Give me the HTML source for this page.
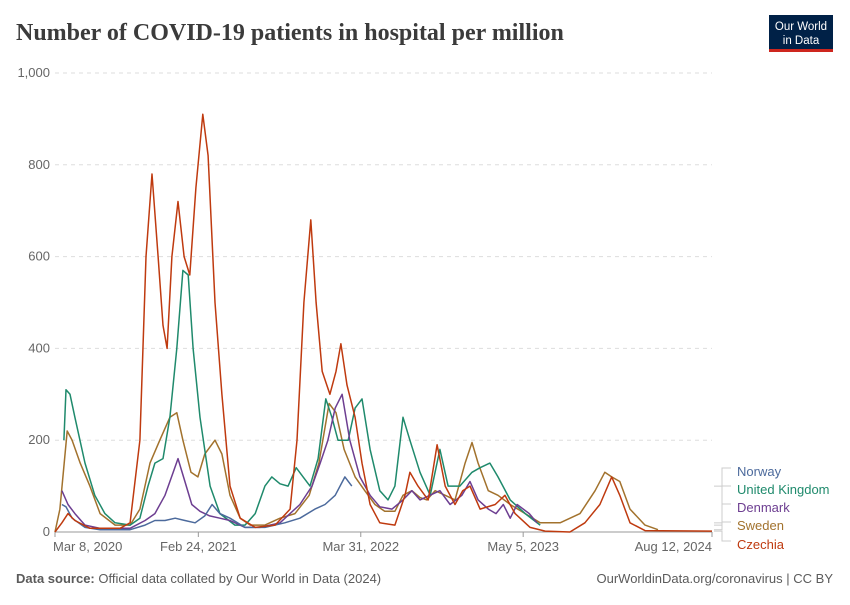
<!DOCTYPE html>
<html><head><meta charset="utf-8"><style>
body{margin:0;background:#fff;font-family:"Liberation Sans",sans-serif}
svg text{font-family:"Liberation Sans",sans-serif}
svg text.title{font-family:"Liberation Serif",serif;font-weight:bold}
</style></head><body>
<svg id="c" width="850" height="600" xmlns="http://www.w3.org/2000/svg">
<text class="title" x="16" y="40" font-size="24" fill="#3b3b3b">Number of COVID-19 patients in hospital per million</text>
<g>
<rect x="769" y="15" width="64" height="35" fill="#002147"/>
<rect x="769" y="49" width="64" height="3" fill="#ce261e"/>
<text x="801" y="30" font-size="11.5" fill="#fff" text-anchor="middle">Our World</text>
<text x="801" y="44" font-size="11.5" fill="#fff" text-anchor="middle">in Data</text>
</g>
<g id="grid"></g><g id="lines"></g><g id="legend"></g>
<text x="16" y="583" font-size="13" fill="#5b5b5b"><tspan font-weight="bold">Data source:</tspan> Official data collated by Our World in Data (2024)</text>
<text x="833" y="583" font-size="13" fill="#5b5b5b" text-anchor="end">OurWorldinData.org/coronavirus | CC BY</text>
</svg>
<script>
const yTicks=[0,200,400,600,800,1000];
const yTickLabels=["0","200","400","600","800","1,000"];
const xTickDays=[0,353,753,1153,1618];
const xTickLabels=["Mar 8, 2020","Feb 24, 2021","Mar 31, 2022","May 5, 2023","Aug 12, 2024"];
const seriesNames=["Norway","United Kingdom","Denmark","Sweden","Czechia"];
// day offsets since 2020-03-08 and values (per million)
const czechiaDays=[0,17,32,49,86,160,185,209,224,239,254,266,276,288,303,318,332,347,364,377,394,411,431,456,493,542,579,596,613,630,643,658,677,692,704,719,739,756,776,800,837,862,874,894,919,941,961,985,1004,1022,1047,1084,1108,1133,1170,1207,1268,1305,1342,1371,1391,1416,1453,1618];
const czechiaVals=[0,20,40,25,8,8,20,200,600,780,600,450,400,600,720,600,560,750,910,820,500,300,100,30,10,15,50,200,500,680,500,350,300,350,410,320,250,150,60,20,15,80,130,100,70,190,100,60,90,100,50,60,80,40,10,2,0,20,60,120,80,20,3,2];
const swedenDays=[0,12,30,42,62,86,111,148,185,209,234,258,283,300,315,335,352,369,394,411,431,456,481,517,554,591,626,650,675,692,712,739,763,788,812,837,857,879,899,916,936,961,985,1010,1027,1042,1067,1091,1121,1158,1195,1244,1293,1330,1354,1371,1391,1416,1453,1485];
const swedenVals=[0,50,220,200,150,100,40,15,15,50,150,200,250,260,200,130,120,170,200,170,80,30,15,15,30,40,80,150,280,260,180,120,90,60,45,45,80,90,75,70,90,80,70,150,195,150,90,80,60,40,20,20,40,90,130,120,110,50,15,5];
const ukDays=[22,27,37,49,74,98,123,148,185,209,229,246,266,283,300,315,328,340,357,382,406,443,468,493,517,534,554,574,594,611,628,648,667,682,697,722,739,756,776,800,820,837,857,874,899,924,948,968,997,1027,1047,1071,1091,1121,1158,1195];
const ukVals=[200,310,300,250,150,80,40,20,15,30,100,150,160,250,400,570,560,400,250,100,40,15,15,40,100,120,105,100,140,120,100,160,290,250,200,200,270,290,180,90,70,100,250,200,130,80,180,100,100,130,140,150,120,70,40,15];
const denmarkDays=[17,32,49,74,111,185,222,246,271,291,303,320,337,357,381,406,431,468,505,554,603,633,653,672,690,707,726,751,776,800,830,857,879,899,923,948,973,1002,1022,1042,1067,1086,1104,1121,1138,1168,1187];
const denmarkVals=[90,60,40,15,8,8,25,40,80,130,160,110,60,45,35,30,25,10,10,20,60,100,150,200,270,300,200,120,80,55,50,70,90,70,80,90,60,80,110,70,50,40,60,30,60,40,20];
const norwayDays=[17,27,42,74,111,185,222,246,271,296,320,345,369,387,406,431,468,517,566,603,640,665,690,714,731];
const norwayVals=[60,55,30,10,5,5,15,25,25,30,25,20,35,60,40,30,10,10,20,30,50,60,80,120,100];
const colors=["#4c6a9c","#1f8a6c","#6d3e91","#a2722d","#bf3a0f"];
const ns="http://www.w3.org/2000/svg";
const X0=55,X1=712,Y0=532,Y1=73;
const x=d=>X0+d*(X1-X0)/1618;
const y=v=>Y0-v*(Y0-Y1)/1000;
function mk(tag,attrs,parent){const e=document.createElementNS(ns,tag);for(const k in attrs)e.setAttribute(k,attrs[k]);parent.appendChild(e);return e;}
const grid=document.getElementById('grid');
yTicks.forEach((t,i)=>{
 const l=mk('line',{x1:X0,x2:X1,y1:y(t),y2:y(t),stroke:i?'#dddddd':'#999',"stroke-dasharray":i?'4,4':'none'},grid);
 
 
 const tx=mk('text',{x:50,y:y(t)+4,"text-anchor":"end","font-size":13,fill:'#666'},grid);
 tx.textContent=yTickLabels[i];
 
 
});
xTickDays.forEach((d,i)=>{
 const tk=mk('line',{x1:x(d),x2:x(d),y1:Y0,y2:Y0+5,stroke:'#999'},grid);
 
 
 const anchor=i==0?'start':(i==xTickDays.length-1?'end':'middle');
 const tx=mk('text',{x:x(d)+(i==0?-2:0),y:551,"text-anchor":anchor,"font-size":13,fill:'#666'},grid);
 tx.textContent=xTickLabels[i];
 
 
});
const data=[[norwayDays,norwayVals],[ukDays,ukVals],[denmarkDays,denmarkVals],[swedenDays,swedenVals],[czechiaDays,czechiaVals]];
const lines=document.getElementById('lines');
[3,1,2,0,4].forEach(i=>{
 const [ds,vs]=data[i];
 const p=mk('polyline',{points:ds.map((d,j)=>x(d).toFixed(1)+','+y(vs[j]).toFixed(1)).join(' '),fill:'none',stroke:colors[i],"stroke-width":1.5,"stroke-linejoin":"round"},lines);
 
 
});
const lg=document.getElementById('legend');
const ly=[472,490,508,526,545];
seriesNames.forEach((n,i)=>{
 const vs=data[i][1];
 const endY=y(vs[vs.length-1]);
 const pth=mk('path',{d:`M714,${endY} H722 V${ly[i]-4} H731`,fill:'none',stroke:'#ccc'},lg);
 
 
 const t=mk('text',{x:737,y:ly[i]+4,"font-size":13,fill:colors[i]},lg);
 t.textContent=n;
 
 
});
</script>
</body></html>
